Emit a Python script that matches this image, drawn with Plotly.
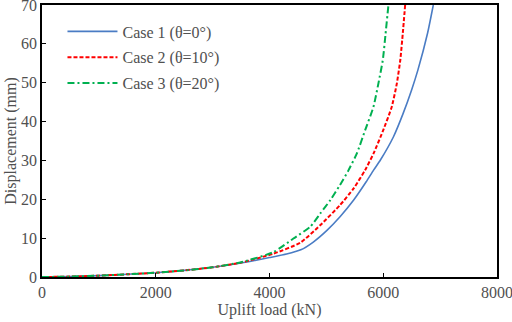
import plotly.graph_objects as go

case1_load = [0, 500, 1000, 1500, 2000, 2500, 3000, 3500, 4000, 4300, 4550, 4770, 5010, 5240, 5480, 5700, 5830, 5950, 6180, 6350, 6500, 6610, 6780, 6880]
case1_disp = [0, 0.1, 0.35, 0.7, 1.1, 1.7, 2.5, 3.6, 5.0, 5.9, 7.0, 9.0, 12.0, 15.5, 19.8, 24.5, 27.5, 30.1, 36.1, 42.1, 48.2, 53.3, 62.8, 70]

case2_load = [0, 500, 1000, 1500, 2000, 2500, 3000, 3500, 4070, 4540, 4890, 5240, 5480, 5680, 5830, 6000, 6150, 6240, 6300, 6344, 6385]
case2_disp = [0, 0.1, 0.35, 0.7, 1.1, 1.7, 2.5, 3.7, 6.0, 8.8, 13.3, 18.5, 22.8, 27.5, 31.8, 37.8, 43.8, 49.9, 55.9, 62.8, 70]

case3_load = [0, 500, 1000, 1500, 2000, 2500, 3000, 3500, 4070, 4420, 4715, 4890, 5070, 5240, 5390, 5536, 5682, 5828, 5916, 5993, 6040, 6091]
case3_disp = [0, 0.1, 0.35, 0.7, 1.1, 1.7, 2.5, 3.8, 6.4, 9.9, 12.9, 16.3, 19.8, 23.7, 27.5, 31.8, 37.8, 43.8, 49.9, 55.9, 62.5, 70]

names = ["Case 1 (θ=0°)", "Case 2 (θ=10°)", "Case 3 (θ=20°)"]
x_ticks = [0, 2000, 4000, 6000, 8000]
y_ticks = [0, 10, 20, 30, 40, 50, 60, 70]

FONT = "Liberation Serif, Times New Roman, serif"
TXT = "#505050"

fig = go.Figure()
fig.add_trace(go.Scatter(x=case1_load, y=case1_disp, name=names[0], mode="lines", legendgroup="a",
                         line=dict(color="#4A7CC4", width=1.6, shape="spline", smoothing=0.5)))
fig.add_trace(go.Scatter(x=case2_load, y=case2_disp, name=names[1], mode="lines", legendgroup="b",
                         line=dict(color="#FF0000", width=2, dash="4px,2px", shape="spline", smoothing=0.5)))
fig.add_trace(go.Scatter(x=case3_load, y=case3_disp, name=names[2], mode="lines", legendgroup="c",
                         line=dict(color="#00B050", width=2, dash="7px,3px,2px,3px", shape="spline", smoothing=0.5)))

fig.update_layout(
    width=512, height=322,
    margin=dict(l=42, r=15, t=5, b=45, autoexpand=False),
    paper_bgcolor="white", plot_bgcolor="white",
    font=dict(family=FONT, size=16, color=TXT),
    showlegend=True,
    legend=dict(x=0.045, y=0.965, xanchor="left", yanchor="top",
                bgcolor="rgba(0,0,0,0)", font=dict(family=FONT, size=16, color=TXT),
                itemwidth=50, tracegroupgap=2),
)
fig.update_xaxes(range=[0, 8000], tickvals=x_ticks, ticks="inside", ticklen=4,
                 tickcolor="black", showline=True, linecolor="black", linewidth=1.5,
                 mirror=True, showgrid=False, zeroline=False, automargin=False,
                 ticklabeloverflow="allow",
                 title=dict(text="Uplift load (kN)", standoff=0, font=dict(size=16)))
fig.update_yaxes(range=[0, 70], tickvals=y_ticks, ticks="inside", ticklen=4,
                 tickcolor="black", showline=True, linecolor="black", linewidth=1.5,
                 mirror=True, showgrid=False, zeroline=False, automargin=False,
                 ticklabeloverflow="allow",
                 title=dict(text="Displacement (mm)", standoff=0, font=dict(size=16)))

fig.write_html("out.html", config={"displayModeBar": False})

with open("out.html", "r", encoding="utf-8") as f:
    html = f.read()
html = html.replace("<head>", "<head><style>html,body{margin:0;padding:0;overflow:hidden;}</style>", 1)
with open("out.html", "w", encoding="utf-8") as f:
    f.write(html)
